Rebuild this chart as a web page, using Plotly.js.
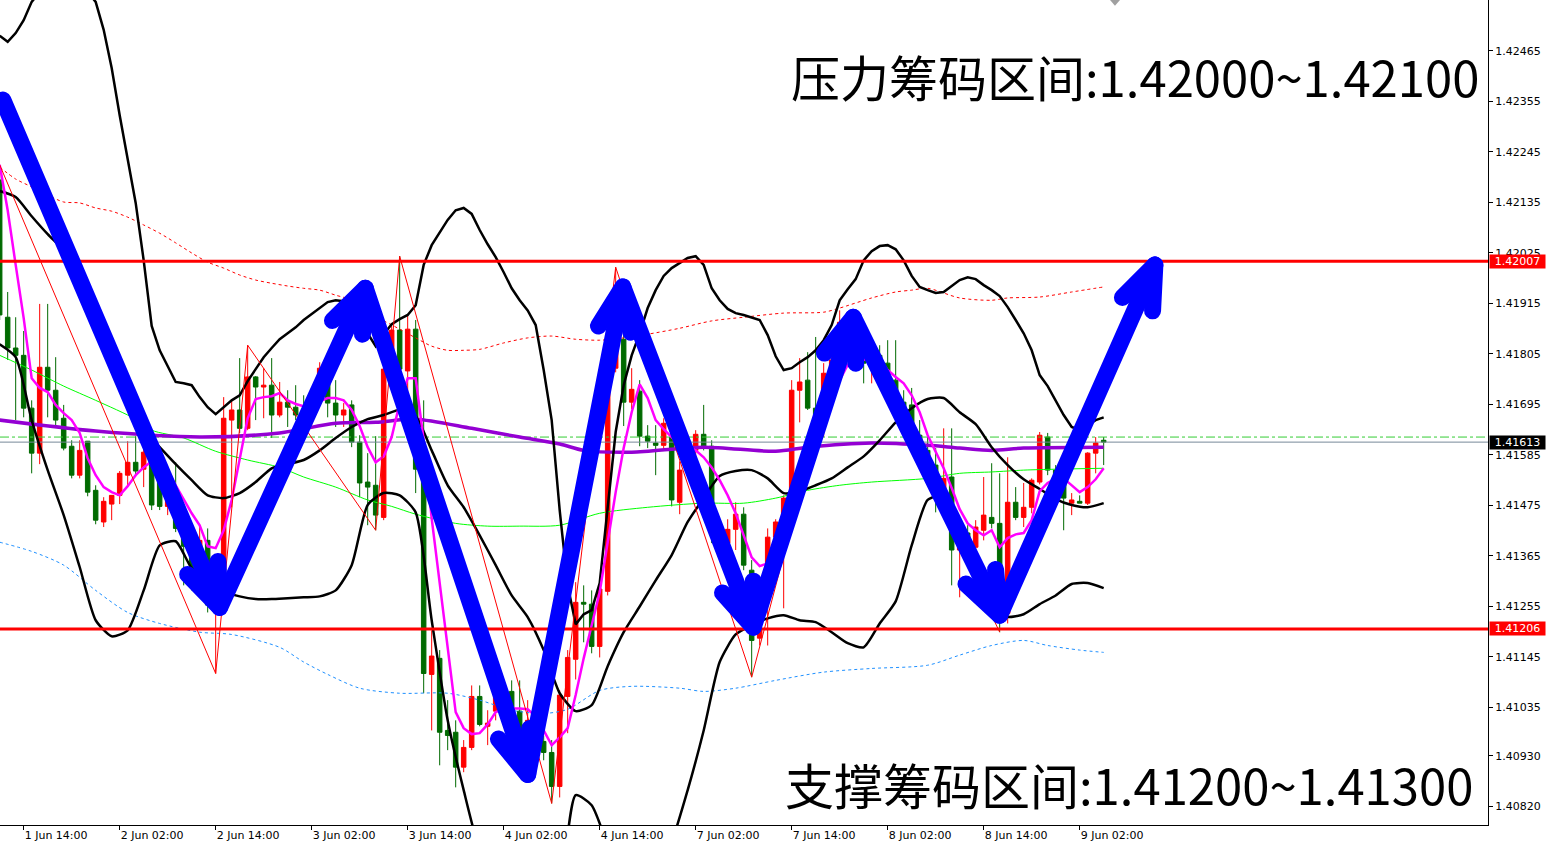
<!DOCTYPE html>
<html>
<head>
<meta charset="utf-8">
<script src="https://cdn.plot.ly/plotly-3.0.1.min.js"></script>
<style>
  html, body { margin: 0; padding: 0; background: #fff; }
  #chart { width: 1546px; height: 845px; }
</style>
</head>
<body>
<div id="chart"></div>
<script>
// GBPUSD-style H1 chart, bar index 0 = 1 Jun 11:00
const open = [
  1.42184,1.41885,1.41818,1.41802,1.41687,1.41589,1.41776,1.41726,1.41665,1.41604,
  1.41541,1.41615,1.41508,1.41439,1.41478,1.41497,1.41541,1.41569,1.41554,1.41585,
  1.41530,1.41473,1.41497,1.41423,1.41386,1.41323,1.41399,1.41258,1.41356,1.41661,
  1.41683,1.41643,1.41755,1.41733,1.41737,1.41672,1.41700,1.41689,1.41683,1.41667,
  1.41741,1.41741,1.41698,1.41672,1.41694,1.41613,1.41526,1.41519,1.41449,1.41772,
  1.41857,1.41768,1.41859,1.41550,1.41107,1.41142,1.40985,1.40981,1.40905,1.40948,
  1.41059,1.40994,1.41027,1.41066,1.41070,1.41027,1.40970,1.41007,1.40961,1.40937,
  1.40863,1.41059,1.41140,1.41264,1.41260,1.41168,1.41288,1.41774,1.41837,1.41700,
  1.41724,1.41626,1.41611,1.41606,1.41624,1.41482,1.41552,1.41595,1.41630,1.41604,
  1.41421,1.41393,1.41423,1.41456,1.41334,1.41186,1.41334,1.41406,1.41443,1.41487,
  1.41726,1.41748,1.41687,1.41687,1.41763,1.41792,1.41874,1.41835,1.41802,1.41785,
  1.41802,1.41785,1.41748,1.41700,1.41694,1.41628,1.41595,1.41563,1.41508,1.41537,
  1.41378,1.41415,1.41384,1.41421,1.41449,1.41436,1.41240,1.41482,1.41449,1.41471,
  1.41526,1.41624,1.41552,1.41534,1.41480,1.41484,1.41480,1.41589,1.41617
];
const high = [
  1.42217,1.41940,1.41885,1.41855,1.41704,1.41914,1.41914,1.41798,1.41694,1.41617,
  1.41617,1.41615,1.41519,1.41493,1.41497,1.41550,1.41615,1.41626,1.41606,1.41595,
  1.41569,1.41508,1.41569,1.41443,1.41399,1.41432,1.41425,1.41356,1.41711,1.41704,
  1.41796,1.41824,1.41757,1.41774,1.41796,1.41744,1.41726,1.41737,1.41715,1.41726,
  1.41787,1.41785,1.41748,1.41698,1.41704,1.41628,1.41589,1.41626,1.41781,1.41868,
  1.42018,1.41890,1.41879,1.41704,1.41203,1.41160,1.41051,1.41007,1.40964,1.41083,
  1.41083,1.41029,1.41072,1.41094,1.41094,1.41094,1.41051,1.41018,1.40974,1.40964,
  1.41072,1.41160,1.41308,1.41301,1.41290,1.41301,1.41792,1.41994,1.41863,1.41774,
  1.41748,1.41650,1.41650,1.41665,1.41639,1.41571,1.41617,1.41639,1.41694,1.41617,
  1.41443,1.41445,1.41482,1.41471,1.41356,1.41225,1.41425,1.41445,1.41497,1.41748,
  1.41796,1.41809,1.41842,1.41785,1.41820,1.41900,1.41896,1.41857,1.41842,1.41813,
  1.41824,1.41835,1.41835,1.41726,1.41731,1.41661,1.41628,1.41600,1.41643,1.41643,
  1.41428,1.41432,1.41443,1.41537,1.41567,1.41545,1.41580,1.41515,1.41524,1.41534,
  1.41635,1.41633,1.41563,1.41537,1.41502,1.41497,1.41591,1.41624,1.41624
];
const low = [
  1.41879,1.41792,1.41661,1.41667,1.41545,1.41565,1.41667,1.41646,1.41595,1.41534,
  1.41534,1.41495,1.41434,1.41428,1.41443,1.41478,1.41515,1.41539,1.41515,1.41465,
  1.41465,1.41454,1.41417,1.41301,1.41290,1.41290,1.41242,1.41109,1.41345,1.41471,
  1.41633,1.41639,1.41661,1.41665,1.41622,1.41667,1.41646,1.41661,1.41639,1.41650,
  1.41731,1.41667,1.41646,1.41646,1.41602,1.41493,1.41432,1.41421,1.41443,1.41765,
  1.41765,1.41680,1.41502,1.41066,1.40985,1.40909,1.40942,1.40861,1.40894,1.40942,
  1.40994,1.40953,1.41007,1.41007,1.41007,1.40953,1.40953,1.40931,1.40920,1.40826,
  1.40839,1.40979,1.41096,1.41177,1.41153,1.41144,1.41279,1.41765,1.41648,1.41685,
  1.41604,1.41600,1.41541,1.41595,1.41473,1.41456,1.41541,1.41571,1.41595,1.41393,
  1.41388,1.41378,1.41378,1.41334,1.41101,1.41170,1.41170,1.41384,1.41251,1.41476,
  1.41656,1.41683,1.41624,1.41624,1.41748,1.41781,1.41792,1.41781,1.41741,1.41741,
  1.41759,1.41737,1.41654,1.41646,1.41633,1.41595,1.41519,1.41460,1.41497,1.41301,
  1.41275,1.41345,1.41312,1.41399,1.41425,1.41199,1.41218,1.41443,1.41428,1.41458,
  1.41521,1.41541,1.41508,1.41421,1.41454,1.41480,1.41476,1.41545,1.41563
];
const close = [
  1.41890,1.41818,1.41802,1.41687,1.41589,1.41776,1.41726,1.41661,1.41600,1.41541,
  1.41595,1.41504,1.41443,1.41484,1.41497,1.41545,1.41569,1.41550,1.41591,1.41476,
  1.41473,1.41497,1.41425,1.41386,1.41323,1.41399,1.41258,1.41345,1.41665,1.41683,
  1.41643,1.41755,1.41733,1.41737,1.41672,1.41700,1.41689,1.41672,1.41667,1.41715,
  1.41774,1.41698,1.41672,1.41683,1.41613,1.41524,1.41515,1.41454,1.41772,1.41857,
  1.41772,1.41859,1.41554,1.41109,1.41147,1.40981,1.40974,1.40905,1.40948,1.41059,
  1.40998,1.41001,1.41066,1.41040,1.41033,1.40970,1.41007,1.40961,1.40937,1.40863,
  1.41062,1.41144,1.41264,1.41260,1.41168,1.41293,1.41774,1.41863,1.41700,1.41728,
  1.41626,1.41615,1.41606,1.41654,1.41487,1.41552,1.41606,1.41630,1.41604,1.41417,
  1.41399,1.41423,1.41456,1.41345,1.41181,1.41203,1.41406,1.41439,1.41491,1.41726,
  1.41744,1.41687,1.41672,1.41763,1.41792,1.41874,1.41835,1.41802,1.41785,1.41802,
  1.41781,1.41748,1.41698,1.41672,1.41646,1.41606,1.41534,1.41508,1.41534,1.41378,
  1.41415,1.41356,1.41428,1.41454,1.41436,1.41319,1.41482,1.41449,1.41471,1.41530,
  1.41628,1.41552,1.41534,1.41491,1.41487,1.41480,1.41589,1.41611,1.41613
];

// time axis labels (every 12 bars, starting with bar 3)
const timeTickBars = [3, 15, 27, 39, 51, 63, 75, 87, 99, 111, 123, 135];
const timeTickText = ['1 Jun 14:00','2 Jun 02:00','2 Jun 14:00','3 Jun 02:00','3 Jun 14:00','4 Jun 02:00',
                      '4 Jun 14:00','7 Jun 02:00','7 Jun 14:00','8 Jun 02:00','8 Jun 14:00','9 Jun 02:00'];
const priceTickVals = [1.42465,1.42355,1.42245,1.42135,1.42025,1.41915,1.41805,1.41695,
                       1.41585,1.41475,1.41365,1.41255,1.41145,1.41035,1.40930,1.40820];
const priceTickText = ['1.42465','1.42355','1.42245','1.42135','1.42025','1.41915','1.41805','1.41695',
                       '1.41585','1.41475','1.41365','1.41255','1.41145','1.41035','1.40930','1.40820'];

// Bollinger bands: upper per bar, middle / lower every second bar
const bbUpper = [
  1.42498,1.42485,1.42504,1.42532,1.42572,1.42593,1.42609,1.42620,1.42624,1.42624,
  1.42615,1.42593,1.42572,1.42511,1.42428,1.42325,1.42227,1.42134,1.42009,1.41866,
  1.41813,1.41779,1.41744,1.41741,1.41737,1.41711,1.41689,1.41674,1.41689,1.41704,
  1.41715,1.41746,1.41772,1.41798,1.41818,1.41837,1.41850,1.41863,1.41879,1.41892,
  1.41905,1.41918,1.41922,1.41920,1.41911,1.41887,1.41850,1.41822,1.41848,1.41870,
  1.41881,1.41890,1.41911,1.41999,1.42042,1.42070,1.42097,1.42118,1.42123,1.42110,
  1.42075,1.42044,1.42016,1.41983,1.41948,1.41922,1.41900,1.41868,1.41770,1.41661,
  1.41465,1.41301,1.41216,1.41238,1.41247,1.41306,1.41465,1.41635,1.41737,1.41802,
  1.41850,1.41905,1.41944,1.41975,1.41992,1.42003,1.42014,1.42018,1.41999,1.41948,
  1.41922,1.41903,1.41894,1.41890,1.41885,1.41879,1.41846,1.41800,1.41770,1.41774,
  1.41787,1.41798,1.41813,1.41835,1.41868,1.41922,1.41946,1.41968,1.42009,1.42029,
  1.42040,1.42042,1.42033,1.42009,1.41975,1.41951,1.41944,1.41938,1.41940,1.41953,
  1.41966,1.41972,1.41968,1.41955,1.41944,1.41931,1.41907,1.41879,1.41850,1.41813,
  1.41759,1.41735,1.41704,1.41672,1.41646,1.41639,1.41650,1.41661,1.41667
];
const bbMiddle = [
  1.42160,1.42147,1.42105,1.42066,1.42031,1.41983,1.41911,1.41809,1.41713,1.41639,
  1.41602,1.41565,1.41530,1.41497,1.41491,1.41502,1.41526,1.41556,1.41565,1.41574,
  1.41595,1.41622,1.41646,1.41663,1.41672,1.41683,1.41669,1.41595,1.41519,1.41471,
  1.41410,1.41345,1.41279,1.41232,1.41160,1.41066,1.41027,1.41040,1.41125,1.41199,
  1.41255,1.41312,1.41367,1.41439,1.41491,1.41539,1.41550,1.41552,1.41534,1.41502,
  1.41506,1.41519,1.41534,1.41558,1.41582,1.41617,1.41656,1.41687,1.41707,1.41709,
  1.41678,1.41652,1.41602,1.41563,1.41532,1.41511,1.41489,1.41476,1.41471,1.41480
];
const bbLower = [
  1.41826,1.41798,1.41661,1.41552,1.41454,1.41341,1.41225,1.41190,1.41203,1.41290,
  1.41388,1.41397,1.41338,1.41310,1.41288,1.41277,1.41271,1.41271,1.41273,1.41275,
  1.41277,1.41290,1.41345,1.41476,1.41502,1.41497,1.41460,1.41225,1.41007,1.40855,
  1.40724,1.40663,1.40615,1.40571,1.40576,1.40639,1.40844,1.40822,1.40735,1.40654,
  1.40658,1.40680,1.40743,1.40855,1.40985,1.41134,1.41194,1.41214,1.41229,1.41236,
  1.41225,1.41221,1.41199,1.41175,1.41166,1.41218,1.41266,1.41388,1.41487,1.41497,
  1.41410,1.41312,1.41247,1.41232,1.41238,1.41260,1.41279,1.41304,1.41306,1.41295
];

// fast moving average (magenta), one value per bar
const fastMA = [
  1.42217,1.42118,1.41999,1.41883,1.41752,1.41731,1.41722,1.41694,1.41676,1.41661,
  1.41633,1.41578,1.41541,1.41515,1.41504,1.41497,1.41517,1.41541,1.41558,1.41571,
  1.41569,1.41552,1.41519,1.41487,1.41458,1.41432,1.41386,1.41382,1.41421,1.41487,
  1.41578,1.41665,1.41707,1.41711,1.41713,1.41720,1.41704,1.41696,1.41691,1.41689,
  1.41702,1.41709,1.41709,1.41704,1.41683,1.41648,1.41602,1.41569,1.41582,1.41624,
  1.41698,1.41752,1.41752,1.41617,1.41447,1.41308,1.41160,1.41025,1.40990,1.40977,
  1.40979,1.40998,1.41025,1.41031,1.41033,1.41033,1.41031,1.41016,1.40985,1.40953,
  1.40970,1.40990,1.41062,1.41142,1.41214,1.41286,1.41395,1.41504,1.41600,1.41678,
  1.41739,1.41709,1.41661,1.41641,1.41624,1.41606,1.41602,1.41595,1.41580,1.41558,
  1.41530,1.41497,1.41458,1.41410,1.41362,1.41343,1.41349,1.41378,1.41439,1.41491,
  1.41545,1.41587,1.41630,1.41661,1.41704,1.41748,1.41781,1.41776,1.41792,1.41802,
  1.41792,1.41770,1.41755,1.41741,1.41715,1.41678,1.41628,1.41591,1.41556,1.41513,
  1.41467,1.41436,1.41421,1.41410,1.41421,1.41384,1.41404,1.41412,1.41415,1.41443,
  1.41506,1.41524,1.41534,1.41534,1.41519,1.41504,1.41515,1.41532,1.41556
];

// slow moving average (purple)
const slowMABars = [0,12,25,35,42,47,52,59,65,70,73,79,88,97,101,109,116,120,124,128,138];
const slowMA = [1.41661,1.41637,1.41624,1.41633,1.41654,1.41656,1.41663,1.41643,1.41624,1.41609,
                1.41595,1.41591,1.41602,1.41593,1.41602,1.41611,1.41606,1.41600,1.41595,1.41600,1.41602];

// medium moving average (green)
const midMABars = [0,4,8,12,17,19,23,27,31,35,38,42,46,49,52,57,61,65,70,75,81,88,93,97,101,105,109,116,120,124,128,132,138];
const midMA = [1.41802,1.41770,1.41735,1.41704,1.41663,1.41639,1.41622,1.41593,1.41574,1.41558,1.41537,
               1.41515,1.41487,1.41473,1.41456,1.41436,1.41430,1.41430,1.41432,1.41458,1.41471,1.41480,
               1.41480,1.41491,1.41508,1.41519,1.41526,1.41534,1.41545,1.41548,1.41552,1.41554,1.41556];

// envelope channel (dotted)
const envUpperBars = [0,2,4,6,8,10,12,14,16,18,20,22,24,26,28,30,32,34,36,38,40,42,44,46,48,50,52,54,56,58,60,
                      63,66,69,72,75,78,81,85,89,93,98,103,105,109,112,114,116,120,124,126,130,134,138];
const envUpper = [1.42212,1.42186,1.42169,1.42151,1.42136,1.42134,1.42123,1.42116,1.42103,1.42086,
                  1.42068,1.42047,1.42025,1.42005,1.41992,1.41977,1.41966,1.41959,1.41953,1.41948,
                  1.41944,1.41933,1.41922,1.41890,1.41877,1.41859,1.41840,1.41822,1.41813,1.41813,
                  1.41815,1.41829,1.41840,1.41844,1.41837,1.41835,1.41840,1.41848,1.41861,1.41877,
                  1.41885,1.41894,1.41896,1.41905,1.41927,1.41940,1.41944,1.41948,1.41927,1.41922,
                  1.41927,1.41929,1.41940,1.41951];
const envLowerBars = [0,4,8,12,16,20,25,29,35,38,41,45,50,56,60,64,68,71,75,79,85,88,92,97,103,109,116,120,124,128,131,135,138];
const envLower = [1.41395,1.41375,1.41345,1.41290,1.41242,1.41218,1.41199,1.41194,1.41166,1.41134,1.41107,
                  1.41077,1.41066,1.41066,1.41051,1.41029,1.41022,1.41031,1.41072,1.41081,1.41077,1.41070,
                  1.41077,1.41094,1.41112,1.41120,1.41127,1.41149,1.41170,1.41181,1.41170,1.41160,1.41155];

// zigzag swing points (bar index, whether it is a swing high)
const swingBars = [0, 27, 31, 47, 50, 69, 77, 94, 106, 125];
const swingIsHigh = [true, false, true, false, true, false, true, false, true, false];

// price levels
const resistanceLevel = 1.42007;
const supportLevel = 1.41206;
const bidLevel = 1.41613;
const askLevel = 1.41624;

// hand-drawn trend path (bar, price)
const trendBars = [0.4, 27.5, 45.7, 66.0, 77.9, 94.2, 106.7, 125.0, 144.4];
const trendPrices = [1.42358, 1.41253, 1.41948, 1.40889, 1.41951, 1.41210, 1.41885, 1.41236, 1.41999];

const resistanceText = '压力筹码区间:1.42000~1.42100';
const supportText = '支撑筹码区间:1.41200~1.41300';

// ---------------------------------------------------------------------------
const xRange = [0.04, 186.04];
const yRange = [1.40779, 1.42576];
const W = 1546, H = 845;
const margin = {l: 0, r: 58, t: 0, b: 20, pad: 0};
const plotW = W - margin.l - margin.r;
const plotH = H - margin.t - margin.b;

const bars = open.map((_, k) => k);
const everyOther = bbMiddle.map((_, k) => k * 2);
const lineFont = 'DejaVu Sans, Verdana, sans-serif';

const traces = [];

traces.push({
  type: 'candlestick', x: bars, open, high, low, close,
  increasing: {line: {color: '#ff0000', width: 1}, fillcolor: '#ff0000'},
  decreasing: {line: {color: '#006a00', width: 1}, fillcolor: '#006a00'},
  whiskerwidth: 0, hoverinfo: 'skip'
});

const line = (x, y, color, width, extra) => Object.assign({
  type: 'scatter', mode: 'lines', x, y, hoverinfo: 'skip',
  line: Object.assign({color, width}, extra || {})
});

traces.push(line(xRange, [askLevel, askLevel], '#33cc33', 1, {dash: 'dashdot'}));
traces.push(line(xRange, [bidLevel, bidLevel], '#778899', 1));
traces.push(line(envUpperBars, envUpper, '#ff0000', 1, {dash: 'dot', shape: 'spline', smoothing: 0.8}));
traces.push(line(envLowerBars, envLower, '#1e90ff', 1, {dash: 'dot', shape: 'spline', smoothing: 0.8}));
traces.push(line(midMABars, midMA, '#00ff00', 1, {shape: 'spline', smoothing: 0.8}));
traces.push(line(slowMABars, slowMA, '#9400d3', 3.5, {shape: 'spline', smoothing: 0.8}));
traces.push(line(bars, bbUpper, '#000000', 2.5));
traces.push(line(everyOther, bbMiddle, '#000000', 2.5, {shape: 'spline', smoothing: 0.6}));
traces.push(line(everyOther, bbLower, '#000000', 2.5, {shape: 'spline', smoothing: 0.6}));
traces.push(line(bars, fastMA, '#ff00ff', 2.5));

// zigzag joins the swing highs / lows of the candles
traces.push(line(swingBars, swingBars.map((b, k) => swingIsHigh[k] ? high[b] : low[b]), '#ff0000', 1));

traces.push(line(xRange, [resistanceLevel, resistanceLevel], '#ff0000', 3));
traces.push(line(xRange, [supportLevel, supportLevel], '#ff0000', 3));

// trend arrows: shaft polyline + two wings at every turning point
const pxPerBar = plotW / (xRange[1] - xRange[0]);
const pxPerPrice = plotH / (yRange[1] - yRange[0]);
const wingLen = 46, wingSpread = 21 * Math.PI / 180;
const ax = trendBars.slice(), ay = trendPrices.slice();
ax.push(null); ay.push(null);
for (let k = 1; k < trendBars.length; k++) {
  const tx = trendBars[k], ty = trendPrices[k];
  const ang = Math.atan2((trendPrices[k - 1] - ty) * pxPerPrice, (trendBars[k - 1] - tx) * pxPerBar);
  [ang + wingSpread, null, ang - wingSpread].forEach((a, j) => {
    if (j === 1) { ax.push(tx); ay.push(ty); return; }
    ax.push(tx + Math.cos(a) * wingLen / pxPerBar);
    ay.push(ty + Math.sin(a) * wingLen / pxPerPrice);
  });
  ax.push(null); ay.push(null);
}
const arrowTrace = line(ax, ay, '#0000ff', 17);
arrowTrace.line.simplify = false;
arrowTrace.connectgaps = false;
traces.push(arrowTrace);

const priceBox = (y, bg) => ({
  xref: 'paper', x: 1, xanchor: 'left', xshift: 1, yref: 'y', y, yanchor: 'middle',
  text: y.toFixed(5), showarrow: false, bgcolor: bg, borderpad: 1, width: 53, height: 11,
  align: 'center', font: {family: lineFont, size: 11, color: '#ffffff'}
});

const layout = {
  width: W, height: H, margin,
  paper_bgcolor: '#ffffff', plot_bgcolor: '#ffffff',
  showlegend: false, dragmode: false,
  boxgap: 0.25, boxgroupgap: 0.25,
  xaxis: {
    range: xRange, fixedrange: true, rangeslider: {visible: false},
    tickmode: 'array', tickvals: timeTickBars, ticktext: timeTickText,
    ticks: 'outside', ticklen: 4, tickcolor: '#000', ticklabelposition: 'outside right',
    showline: true, linecolor: '#000', linewidth: 1, mirror: true,
    showgrid: false, zeroline: false,
    tickfont: {family: lineFont, size: 11, color: '#000'}
  },
  yaxis: {
    range: yRange, fixedrange: true, side: 'right',
    tickmode: 'array', tickvals: priceTickVals, ticktext: priceTickText,
    ticks: 'outside', ticklen: 4, tickcolor: '#000',
    showline: true, linecolor: '#000', linewidth: 1,
    showgrid: false, zeroline: false,
    tickfont: {family: lineFont, size: 11, color: '#000'}
  },
  shapes: [
    {type: 'path', xref: 'paper', yref: 'paper', path: 'M 0.7460 1 L 0.7527 1 L 0.7493 0.993 Z',
     fillcolor: '#a0a0a0', line: {width: 0}}
  ],
  annotations: [
    {xref: 'paper', yref: 'paper', x: 0.9953, y: 0.9079, xanchor: 'right', yanchor: 'middle',
     text: resistanceText, showarrow: false,
     font: {family: 'Noto Sans CJK SC, sans-serif', size: 49, color: '#000'}},
    {xref: 'paper', yref: 'paper', x: 0.9913, y: 0.0497, xanchor: 'right', yanchor: 'middle',
     text: supportText, showarrow: false,
     font: {family: 'Noto Sans CJK SC, sans-serif', size: 49, color: '#000'}},
    priceBox(resistanceLevel, '#ff0000'),
    priceBox(supportLevel, '#ff0000'),
    priceBox(bidLevel, '#000000')
  ]
};

Plotly.newPlot('chart', traces, layout, {staticPlot: true}).then(() => {
  document.querySelectorAll('path.js-line').forEach(p => {
    if (parseFloat(p.style.strokeWidth) >= 10) {
      p.style.strokeLinecap = 'round';
      p.style.strokeLinejoin = 'round';
    }
  });
});
</script>
</body>
</html>
